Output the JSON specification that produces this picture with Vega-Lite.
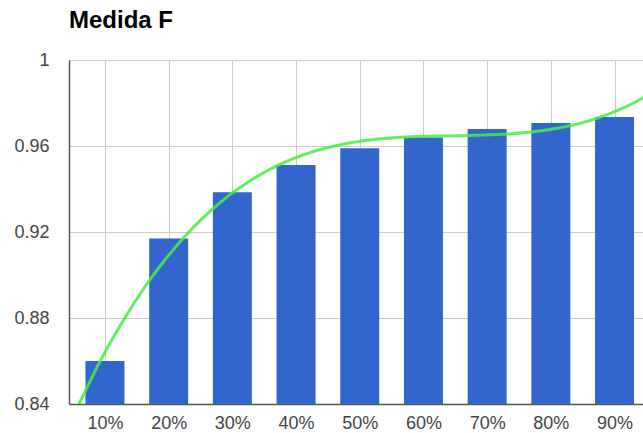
{
  "$schema": "https://vega.github.io/schema/vega-lite/v6.json",
  "width": 581,
  "height": 344,
  "autosize": {"type": "none"},
  "padding": {"left": 69, "top": 60, "right": 0, "bottom": 29},
  "background": "white",
  "title": {
    "text": "Medida F",
    "anchor": "start",
    "frame": "group",
    "font": "Liberation Sans",
    "fontSize": 24,
    "fontWeight": "bold",
    "color": "#000000",
    "offset": 18
  },
  "config": {
    "view": {"stroke": null},
    "axis": {
      "labelFont": "Liberation Sans",
      "labelFontSize": 18,
      "labelColor": "#444444",
      "gridColor": "#cccccc",
      "gridOpacity": 1,
      "gridWidth": 1,
      "ticks": false,
      "domainColor": "#555555",
      "domainWidth": 1.5,
      "title": null
    }
  },
  "data": {
    "values": [
      {"x": 10, "f": 0.860},
      {"x": 20, "f": 0.917},
      {"x": 30, "f": 0.9385},
      {"x": 40, "f": 0.9512},
      {"x": 50, "f": 0.9589},
      {"x": 60, "f": 0.9639},
      {"x": 70, "f": 0.9679},
      {"x": 80, "f": 0.9707},
      {"x": 90, "f": 0.9735}
    ]
  },
  "layer": [
    {
      "mark": {"type": "bar", "size": 39, "color": "#3366cc", "clip": true},
      "encoding": {
        "x": {
          "field": "x",
          "type": "quantitative",
          "scale": {"domain": [5.14, 94.78], "nice": false, "zero": false},
          "axis": {
            "values": [10, 20, 30, 40, 50, 60, 70, 80, 90],
            "labelExpr": "datum.value + '%'",
            "labelPadding": 10,
            "grid": true,
            "domainColor": "#555555"
          }
        },
        "y": {
          "field": "f",
          "type": "quantitative",
          "scale": {"domain": [0.84, 1], "nice": false, "zero": false},
          "axis": {
            "values": [0.84, 0.88, 0.92, 0.96, 1],
            "format": "~g",
            "labelPadding": 20,
            "grid": true
          }
        }
      }
    },
    {
      "transform": [
        {"regression": "f", "on": "x", "method": "poly", "order": 3, "extent": [5, 100]}
      ],
      "mark": {"type": "line", "color": "#44ee44", "strokeWidth": 3, "opacity": 0.85, "clip": true},
      "encoding": {
        "x": {"field": "x", "type": "quantitative"},
        "y": {"field": "f", "type": "quantitative"}
      }
    }
  ]
}
